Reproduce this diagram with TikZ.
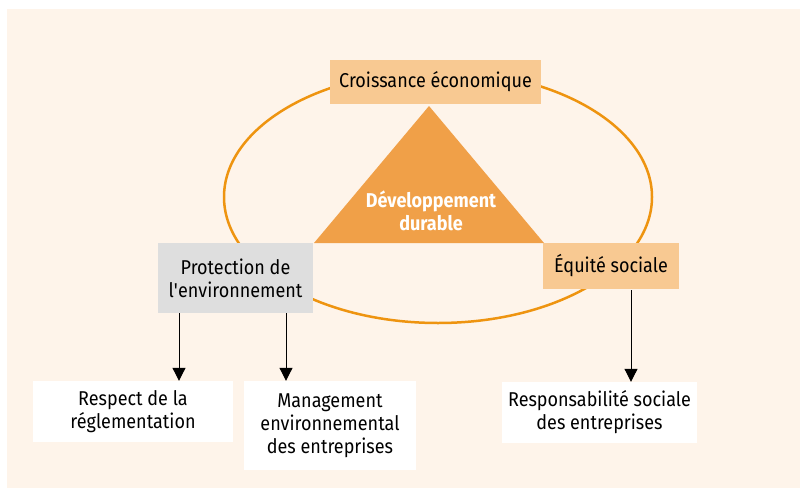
\documentclass[tikz,border=0pt]{standalone}
\usepackage{fontspec}
\setmainfont{Fira Sans}[FakeStretch=0.9]
\usetikzlibrary{arrows.meta}

\definecolor{creme}{HTML}{FEF4EA}
\definecolor{orangeclair}{HTML}{F8C992}
\definecolor{orangetri}{HTML}{F0A048}
\definecolor{orangetrait}{HTML}{EE9410}
\definecolor{grisboite}{HTML}{DEDEDE}

\tikzset{
  boite/.style={align=center, inner sep=0pt, font=\fontsize{20}{23}\selectfont},
  pilier/.style={boite, fill=orangeclair},
  fleche/.style={line width=1pt, -{Triangle[length=13pt,width=13pt]}}
}

\begin{document}
\begin{tikzpicture}[x=1pt, y=-1pt]
\useasboundingbox (0,0) rectangle (800,490);
%fond
\fill [creme] (7,9) rectangle (800,488);

%cercle et triangle
\draw [orangetrait, line width=2.5pt] (438,197) ellipse [x radius=214, y radius=126];

\coordinate (S) at (429,106); %sommet
\coordinate (G) at (314,243); %base gauche
\coordinate (D) at (544,243); %base droite
\fill [orangetri] (S) -- (G) -- (D) -- cycle;
\node (dd) [boite, text=white, font=\fontsize{20}{23}\selectfont\bfseries] at (431,211) {Développement\\durable};

%les trois piliers
\node (eco) [pilier, minimum width=211, minimum height=44] at (435.5,82) {Croissance économique};
\node (env) [boite, fill=grisboite, minimum width=155, minimum height=70] at (235.5,278) {Protection de\\l\textquotesingle environnement};
\node (soc) [pilier, minimum width=136, minimum height=46] at (611,266) {Équité sociale};

%boites du bas
\node (regl) [boite, fill=white, minimum width=200, minimum height=61] at (133,411.5) {Respect de la\\réglementation};
\node (mgmt) [boite, fill=white, minimum width=172, minimum height=89] at (330,425.5) {Management\\environnemental\\des entreprises};
\node (rse) [boite, fill=white, minimum width=195, minimum height=61] at (599.5,412.5) {Responsabilité sociale\\des entreprises};

%fleches
\coordinate (e1) at (179,313);
\coordinate (e2) at (286,313);
\coordinate (s1) at (631,290);
\draw [fleche] (e1) -- (e1 |- regl.north);
\draw [fleche] (e2) -- (e2 |- mgmt.north);
\draw [fleche] (s1) -- (s1 |- rse.north);
\end{tikzpicture}
\end{document}
